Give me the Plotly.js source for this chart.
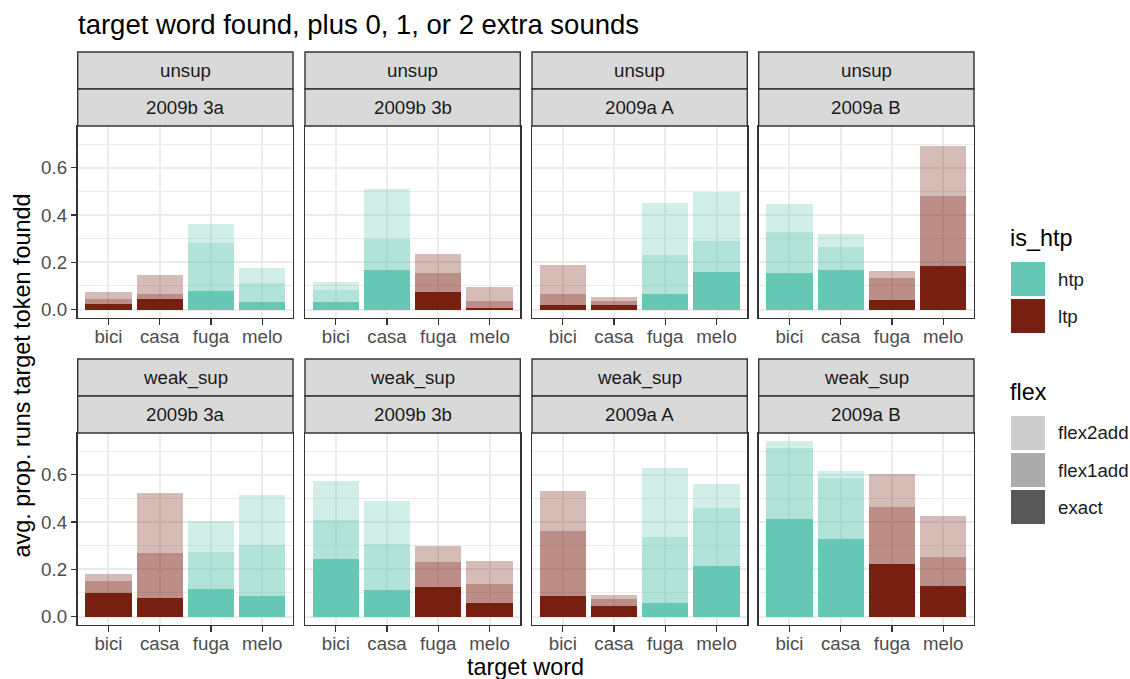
<!DOCTYPE html>
<html><head><meta charset="utf-8">
<script src="https://cdn.plot.ly/plotly-3.0.1.min.js"></script>
<style>html,body{margin:0;padding:0;background:#fff}</style>
</head><body><div id="chart" style="width:1130px;height:679px"></div>
<script>
// ---------------- data ----------------
const words = ['bici', 'casa', 'fuga', 'melo'];
const conds = ['unsup', 'unsup', 'unsup', 'unsup', 'weak_sup', 'weak_sup', 'weak_sup', 'weak_sup'];
const datasets = ['2009b 3a', '2009b 3b', '2009a A', '2009a B', '2009b 3a', '2009b 3b', '2009a A', '2009a B'];
const isHtp = [
  ['ltp', 'ltp', 'htp', 'htp'],
  ['htp', 'htp', 'ltp', 'ltp'],
  ['ltp', 'ltp', 'htp', 'htp'],
  ['htp', 'htp', 'ltp', 'ltp'],
  ['ltp', 'ltp', 'htp', 'htp'],
  ['htp', 'htp', 'ltp', 'ltp'],
  ['ltp', 'ltp', 'htp', 'htp'],
  ['htp', 'htp', 'ltp', 'ltp']
];
// stacked segment values per panel (exact, then flex1add, then flex2add)
const exact = [
  [0.025, 0.046, 0.080, 0.030],
  [0.030, 0.169, 0.072, 0.008],
  [0.017, 0.021, 0.067, 0.160],
  [0.156, 0.169, 0.042, 0.186],
  [0.101, 0.080, 0.118, 0.085],
  [0.245, 0.114, 0.127, 0.059],
  [0.085, 0.046, 0.059, 0.215],
  [0.414, 0.330, 0.224, 0.131]
];
const flex1add = [
  [0.021, 0.021, 0.201, 0.084],
  [0.053, 0.130, 0.084, 0.030],
  [0.050, 0.016, 0.165, 0.131],
  [0.173, 0.097, 0.093, 0.295],
  [0.048, 0.189, 0.157, 0.219],
  [0.165, 0.194, 0.105, 0.080],
  [0.278, 0.030, 0.279, 0.246],
  [0.300, 0.257, 0.241, 0.123]
];
const flex2add = [
  [0.026, 0.081, 0.082, 0.063],
  [0.035, 0.211, 0.080, 0.059],
  [0.123, 0.014, 0.219, 0.206],
  [0.118, 0.054, 0.029, 0.210],
  [0.033, 0.255, 0.131, 0.211],
  [0.165, 0.182, 0.068, 0.098],
  [0.169, 0.013, 0.292, 0.101],
  [0.030, 0.030, 0.139, 0.173]
];
const htpLevels = ['htp', 'ltp'];
const flexLevels = ['flex2add', 'flex1add', 'exact'];
const yTicks = [0, 0.2, 0.4, 0.6];
const yTickText = ['0.0', '0.2', '0.4', '0.6'];
const yMinor = [0.1, 0.3, 0.5, 0.7];

// ---------------- style ----------------
const W = 1130, H = 679;
const FONT = 'Liberation Sans, Arial, Helvetica, sans-serif';
const htpRGB = { htp: '102,200,180', ltp: '119,32,18' };
const flexAlpha = { exact: 1, flex1add: 0.5, flex2add: 0.3 };
const legendGrey = '89,89,89';
const colLeft = [77.7, 305, 532, 758.7];
const panelW = 215.3;
const rowTop = [126, 433];
const panelH = 192;
const stripH = 37;

const px = x => x / W;
const py = y => 1 - y / H;

const traces = [];
const layout = {
  width: W, height: H,
  margin: { l: 0, r: 0, t: 0, b: 0 },
  paper_bgcolor: '#ffffff', plot_bgcolor: '#ffffff',
  barmode: 'stack',
  showlegend: false,
  font: { family: FONT, color: '#1a1a1a' },
  title: {
    text: 'target word found, plus 0, 1, or 2 extra sounds',
    x: px(78), xanchor: 'left', xref: 'paper',
    y: py(24), yanchor: 'middle', yref: 'paper',
    font: { family: FONT, size: 27.5, color: '#000000' }
  },
  shapes: [], annotations: []
};

const segs = [['exact', exact], ['flex1add', flex1add], ['flex2add', flex2add]];

for (let p = 0; p < 8; p++) {
  const r = Math.floor(p / 4), c = p % 4;
  const k = p + 1;
  const xa = 'x' + (k === 1 ? '' : k), ya = 'y' + (k === 1 ? '' : k);
  segs.forEach(([lvl, arr]) => {
    traces.push({
      type: 'bar', x: words, y: arr[p],
      xaxis: xa, yaxis: ya, width: 0.9,
      marker: {
        color: isHtp[p].map(h => 'rgba(' + htpRGB[h] + ',' + flexAlpha[lvl] + ')'),
        line: { width: 0 }
      },
      name: lvl, hoverinfo: 'x+y+name'
    });
  });
  const x0 = colLeft[c], x1 = colLeft[c] + panelW;
  const y0 = rowTop[r], y1 = rowTop[r] + panelH;
  layout['xaxis' + (k === 1 ? '' : k)] = {
    domain: [px(x0), px(x1)], anchor: ya,
    type: 'category', categoryorder: 'array', categoryarray: words,
    range: [-0.6, 3.6],
    showgrid: true, gridcolor: '#ebebeb', gridwidth: 2,
    showline: true, linecolor: '#333333', linewidth: 1.4, mirror: true,
    ticks: 'outside', ticklen: 5.5, tickwidth: 1.1, tickcolor: '#333333',
    ticklabelstandoff: -4,
    tickfont: { family: FONT, size: 18.7, color: '#4d4d4d' },
    zeroline: false, fixedrange: true
  };
  layout['yaxis' + (k === 1 ? '' : k)] = {
    domain: [py(y1), py(y0)], anchor: xa,
    range: [-0.036, 0.777],
    tickmode: 'array', tickvals: yTicks, ticktext: yTickText,
    showgrid: true, gridcolor: '#ebebeb', gridwidth: 2,
    minor: { tickmode: 'array', tickvals: yMinor, showgrid: true, gridcolor: '#ebebeb', gridwidth: 1, ticks: '' },
    showline: true, linecolor: '#333333', linewidth: 1.4, mirror: true,
    ticks: c === 0 ? 'outside' : '', ticklen: 5.5, tickwidth: 1.1, tickcolor: '#333333',
    showticklabels: c === 0,
    tickfont: { family: FONT, size: 18.7, color: '#4d4d4d' },
    zeroline: false, fixedrange: true
  };
  // strips
  const labels = [conds[p], datasets[p]];
  for (let s = 0; s < 2; s++) {
    const sy0 = y0 - stripH * (2 - s), sy1 = sy0 + stripH;
    layout.shapes.push({
      type: 'rect', xref: 'paper', yref: 'paper',
      x0: px(x0), x1: px(x1), y0: py(sy1), y1: py(sy0),
      fillcolor: '#d9d9d9', line: { color: '#333333', width: 1.4 }
    });
    layout.annotations.push({
      xref: 'paper', yref: 'paper', x: px((x0 + x1) / 2), y: py((sy0 + sy1) / 2),
      xanchor: 'center', yanchor: 'middle', showarrow: false,
      text: labels[s], font: { family: FONT, size: 18.7, color: '#1a1a1a' }
    });
  }
}

// axis titles
layout.annotations.push({
  xref: 'paper', yref: 'paper', x: px(525.9), y: py(667), xanchor: 'center', yanchor: 'middle',
  showarrow: false, text: 'target word', font: { family: FONT, size: 23.4, color: '#000000' }
});
layout.annotations.push({
  xref: 'paper', yref: 'paper', x: px(21), y: py(375.5), xanchor: 'center', yanchor: 'middle',
  showarrow: false, textangle: -90, text: 'avg. prop. runs target token foundd',
  font: { family: FONT, size: 23.4, color: '#000000' }
});

// legends
function legendTitle(t, yc) {
  layout.annotations.push({
    xref: 'paper', yref: 'paper', x: px(1008), y: py(yc), xanchor: 'left', yanchor: 'middle',
    showarrow: false, text: t, font: { family: FONT, size: 23.4, color: '#000000' }
  });
}
function legendKey(label, color, ytop) {
  layout.shapes.push({
    type: 'rect', xref: 'paper', yref: 'paper',
    x0: px(1011), x1: px(1045), y0: py(ytop + 34), y1: py(ytop),
    fillcolor: color, line: { width: 0 }
  });
  layout.annotations.push({
    xref: 'paper', yref: 'paper', x: px(1056), y: py(ytop + 17), xanchor: 'left', yanchor: 'middle',
    showarrow: false, text: label, font: { family: FONT, size: 18.7, color: '#1a1a1a' }
  });
}
legendTitle('is_htp', 238);
htpLevels.forEach((h, i) => legendKey(h, 'rgb(' + htpRGB[h] + ')', 262 + i * 37));
legendTitle('flex', 392);
flexLevels.forEach((f, i) => legendKey(f, 'rgba(' + legendGrey + ',' + flexAlpha[f] + ')', 416 + i * 37));

Plotly.newPlot('chart', traces, layout, { staticPlot: true, displayModeBar: false });
</script>
</body></html>
